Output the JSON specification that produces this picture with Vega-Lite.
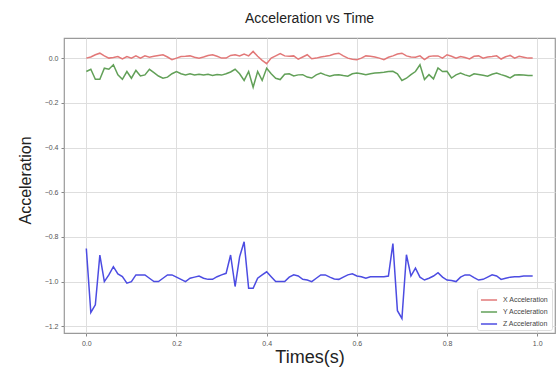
{
  "$schema": "https://vega.github.io/schema/vega-lite/v6.json",
  "autosize": {"type": "none"},
  "padding": {"left": 64, "top": 38, "right": 2, "bottom": 38},
  "width": 491,
  "height": 295,
  "background": "white",
  "config": {
    "font": "Liberation Sans",
    "view": {"stroke": "#9a9a9a", "strokeWidth": 1.2},
    "axis": {
      "domain": false,
      "grid": true,
      "gridColor": "#dedede",
      "gridWidth": 1,
      "tickColor": "#888",
      "tickSize": 3,
      "labelFontSize": 7,
      "labelColor": "#555",
      "titleFontSize": 16,
      "titleFontWeight": "normal",
      "titleColor": "#222"
    }
  },
  "title": {"text": "Acceleration vs Time", "fontSize": 14, "fontWeight": "normal", "color": "#222", "offset": 12},
  "data": {"values": [
    {"t":0.00,"X Acceleration":0.000,"Y Acceleration":-0.060,"Z Acceleration":-0.852},
    {"t":0.01,"X Acceleration":0.005,"Y Acceleration":-0.050,"Z Acceleration":-1.138},
    {"t":0.02,"X Acceleration":0.015,"Y Acceleration":-0.095,"Z Acceleration":-1.104},
    {"t":0.03,"X Acceleration":0.022,"Y Acceleration":-0.095,"Z Acceleration":-0.881},
    {"t":0.04,"X Acceleration":0.010,"Y Acceleration":-0.045,"Z Acceleration":-1.000},
    {"t":0.05,"X Acceleration":0.000,"Y Acceleration":-0.050,"Z Acceleration":-0.970},
    {"t":0.06,"X Acceleration":0.003,"Y Acceleration":-0.030,"Z Acceleration":-0.933},
    {"t":0.07,"X Acceleration":0.007,"Y Acceleration":-0.075,"Z Acceleration":-0.966},
    {"t":0.08,"X Acceleration":-0.004,"Y Acceleration":-0.095,"Z Acceleration":-0.978},
    {"t":0.09,"X Acceleration":0.007,"Y Acceleration":-0.060,"Z Acceleration":-1.007},
    {"t":0.10,"X Acceleration":0.000,"Y Acceleration":-0.090,"Z Acceleration":-1.000},
    {"t":0.11,"X Acceleration":0.010,"Y Acceleration":-0.055,"Z Acceleration":-0.970},
    {"t":0.12,"X Acceleration":0.000,"Y Acceleration":-0.080,"Z Acceleration":-0.970},
    {"t":0.13,"X Acceleration":0.010,"Y Acceleration":-0.075,"Z Acceleration":-0.970},
    {"t":0.14,"X Acceleration":0.004,"Y Acceleration":-0.050,"Z Acceleration":-0.985},
    {"t":0.15,"X Acceleration":0.008,"Y Acceleration":-0.065,"Z Acceleration":-1.000},
    {"t":0.16,"X Acceleration":0.012,"Y Acceleration":-0.080,"Z Acceleration":-1.000},
    {"t":0.17,"X Acceleration":0.015,"Y Acceleration":-0.090,"Z Acceleration":-0.985},
    {"t":0.18,"X Acceleration":0.005,"Y Acceleration":-0.085,"Z Acceleration":-0.970},
    {"t":0.19,"X Acceleration":-0.007,"Y Acceleration":-0.070,"Z Acceleration":-0.970},
    {"t":0.20,"X Acceleration":0.000,"Y Acceleration":-0.060,"Z Acceleration":-0.980},
    {"t":0.21,"X Acceleration":0.007,"Y Acceleration":-0.070,"Z Acceleration":-0.990},
    {"t":0.22,"X Acceleration":0.008,"Y Acceleration":-0.075,"Z Acceleration":-1.000},
    {"t":0.23,"X Acceleration":0.010,"Y Acceleration":-0.070,"Z Acceleration":-0.985},
    {"t":0.24,"X Acceleration":0.004,"Y Acceleration":-0.075,"Z Acceleration":-0.980},
    {"t":0.25,"X Acceleration":0.000,"Y Acceleration":-0.072,"Z Acceleration":-0.975},
    {"t":0.26,"X Acceleration":0.005,"Y Acceleration":-0.076,"Z Acceleration":-0.985},
    {"t":0.27,"X Acceleration":0.012,"Y Acceleration":-0.072,"Z Acceleration":-0.990},
    {"t":0.28,"X Acceleration":0.015,"Y Acceleration":-0.078,"Z Acceleration":-0.990},
    {"t":0.29,"X Acceleration":0.008,"Y Acceleration":-0.073,"Z Acceleration":-0.978},
    {"t":0.30,"X Acceleration":0.000,"Y Acceleration":-0.076,"Z Acceleration":-0.970},
    {"t":0.31,"X Acceleration":0.000,"Y Acceleration":-0.070,"Z Acceleration":-0.963},
    {"t":0.32,"X Acceleration":0.012,"Y Acceleration":-0.062,"Z Acceleration":-0.881},
    {"t":0.33,"X Acceleration":0.015,"Y Acceleration":-0.050,"Z Acceleration":-1.022},
    {"t":0.34,"X Acceleration":0.010,"Y Acceleration":-0.070,"Z Acceleration":-0.889},
    {"t":0.35,"X Acceleration":0.018,"Y Acceleration":-0.100,"Z Acceleration":-0.822},
    {"t":0.36,"X Acceleration":0.010,"Y Acceleration":-0.060,"Z Acceleration":-1.030},
    {"t":0.37,"X Acceleration":0.030,"Y Acceleration":-0.130,"Z Acceleration":-1.030},
    {"t":0.38,"X Acceleration":0.008,"Y Acceleration":-0.060,"Z Acceleration":-0.985},
    {"t":0.39,"X Acceleration":-0.010,"Y Acceleration":-0.100,"Z Acceleration":-0.970},
    {"t":0.40,"X Acceleration":-0.025,"Y Acceleration":-0.045,"Z Acceleration":-0.956},
    {"t":0.41,"X Acceleration":0.000,"Y Acceleration":-0.070,"Z Acceleration":-0.978},
    {"t":0.42,"X Acceleration":0.010,"Y Acceleration":-0.090,"Z Acceleration":-1.000},
    {"t":0.43,"X Acceleration":0.020,"Y Acceleration":-0.096,"Z Acceleration":-1.000},
    {"t":0.44,"X Acceleration":0.010,"Y Acceleration":-0.072,"Z Acceleration":-1.000},
    {"t":0.45,"X Acceleration":0.008,"Y Acceleration":-0.070,"Z Acceleration":-0.980},
    {"t":0.46,"X Acceleration":0.010,"Y Acceleration":-0.080,"Z Acceleration":-0.970},
    {"t":0.47,"X Acceleration":-0.005,"Y Acceleration":-0.075,"Z Acceleration":-0.975},
    {"t":0.48,"X Acceleration":0.005,"Y Acceleration":-0.074,"Z Acceleration":-0.990},
    {"t":0.49,"X Acceleration":0.015,"Y Acceleration":-0.085,"Z Acceleration":-0.993},
    {"t":0.50,"X Acceleration":-0.003,"Y Acceleration":-0.089,"Z Acceleration":-1.000},
    {"t":0.51,"X Acceleration":0.000,"Y Acceleration":-0.075,"Z Acceleration":-0.985},
    {"t":0.52,"X Acceleration":0.005,"Y Acceleration":-0.067,"Z Acceleration":-0.970},
    {"t":0.53,"X Acceleration":0.008,"Y Acceleration":-0.075,"Z Acceleration":-0.970},
    {"t":0.54,"X Acceleration":0.012,"Y Acceleration":-0.081,"Z Acceleration":-0.980},
    {"t":0.55,"X Acceleration":0.018,"Y Acceleration":-0.076,"Z Acceleration":-0.988},
    {"t":0.56,"X Acceleration":0.022,"Y Acceleration":-0.074,"Z Acceleration":-0.990},
    {"t":0.57,"X Acceleration":0.010,"Y Acceleration":-0.078,"Z Acceleration":-0.980},
    {"t":0.58,"X Acceleration":0.000,"Y Acceleration":-0.081,"Z Acceleration":-0.970},
    {"t":0.59,"X Acceleration":-0.005,"Y Acceleration":-0.070,"Z Acceleration":-0.965},
    {"t":0.60,"X Acceleration":-0.007,"Y Acceleration":-0.067,"Z Acceleration":-0.975},
    {"t":0.61,"X Acceleration":0.000,"Y Acceleration":-0.070,"Z Acceleration":-0.978},
    {"t":0.62,"X Acceleration":0.010,"Y Acceleration":-0.074,"Z Acceleration":-0.985},
    {"t":0.63,"X Acceleration":0.008,"Y Acceleration":-0.070,"Z Acceleration":-0.978},
    {"t":0.64,"X Acceleration":0.005,"Y Acceleration":-0.067,"Z Acceleration":-0.978},
    {"t":0.65,"X Acceleration":0.000,"Y Acceleration":-0.065,"Z Acceleration":-0.978},
    {"t":0.66,"X Acceleration":-0.007,"Y Acceleration":-0.063,"Z Acceleration":-0.978},
    {"t":0.67,"X Acceleration":0.004,"Y Acceleration":-0.060,"Z Acceleration":-0.975},
    {"t":0.68,"X Acceleration":0.010,"Y Acceleration":-0.059,"Z Acceleration":-0.830},
    {"t":0.69,"X Acceleration":0.018,"Y Acceleration":-0.070,"Z Acceleration":-1.130},
    {"t":0.70,"X Acceleration":0.022,"Y Acceleration":-0.100,"Z Acceleration":-1.165},
    {"t":0.71,"X Acceleration":0.010,"Y Acceleration":-0.090,"Z Acceleration":-0.880},
    {"t":0.72,"X Acceleration":0.005,"Y Acceleration":-0.074,"Z Acceleration":-0.975},
    {"t":0.73,"X Acceleration":0.004,"Y Acceleration":-0.060,"Z Acceleration":-0.940},
    {"t":0.74,"X Acceleration":0.010,"Y Acceleration":-0.030,"Z Acceleration":-0.980},
    {"t":0.75,"X Acceleration":-0.007,"Y Acceleration":-0.096,"Z Acceleration":-0.993},
    {"t":0.76,"X Acceleration":0.007,"Y Acceleration":-0.074,"Z Acceleration":-0.985},
    {"t":0.77,"X Acceleration":0.010,"Y Acceleration":-0.093,"Z Acceleration":-0.975},
    {"t":0.78,"X Acceleration":0.010,"Y Acceleration":-0.044,"Z Acceleration":-0.960},
    {"t":0.79,"X Acceleration":0.000,"Y Acceleration":-0.060,"Z Acceleration":-0.980},
    {"t":0.80,"X Acceleration":0.015,"Y Acceleration":-0.059,"Z Acceleration":-0.993},
    {"t":0.81,"X Acceleration":0.008,"Y Acceleration":-0.089,"Z Acceleration":-0.995},
    {"t":0.82,"X Acceleration":0.000,"Y Acceleration":-0.075,"Z Acceleration":-1.000},
    {"t":0.83,"X Acceleration":0.007,"Y Acceleration":-0.067,"Z Acceleration":-0.980},
    {"t":0.84,"X Acceleration":0.003,"Y Acceleration":-0.075,"Z Acceleration":-0.970},
    {"t":0.85,"X Acceleration":-0.004,"Y Acceleration":-0.081,"Z Acceleration":-0.970},
    {"t":0.86,"X Acceleration":0.008,"Y Acceleration":-0.070,"Z Acceleration":-0.982},
    {"t":0.87,"X Acceleration":0.010,"Y Acceleration":-0.073,"Z Acceleration":-0.993},
    {"t":0.88,"X Acceleration":0.000,"Y Acceleration":-0.077,"Z Acceleration":-0.990},
    {"t":0.89,"X Acceleration":0.005,"Y Acceleration":-0.081,"Z Acceleration":-0.980},
    {"t":0.90,"X Acceleration":0.007,"Y Acceleration":-0.072,"Z Acceleration":-0.970},
    {"t":0.91,"X Acceleration":0.010,"Y Acceleration":-0.067,"Z Acceleration":-0.975},
    {"t":0.92,"X Acceleration":-0.004,"Y Acceleration":-0.074,"Z Acceleration":-0.990},
    {"t":0.93,"X Acceleration":0.006,"Y Acceleration":-0.080,"Z Acceleration":-0.985},
    {"t":0.94,"X Acceleration":0.012,"Y Acceleration":-0.089,"Z Acceleration":-0.980},
    {"t":0.95,"X Acceleration":0.000,"Y Acceleration":-0.076,"Z Acceleration":-0.978},
    {"t":0.96,"X Acceleration":0.008,"Y Acceleration":-0.074,"Z Acceleration":-0.978},
    {"t":0.97,"X Acceleration":0.004,"Y Acceleration":-0.076,"Z Acceleration":-0.975},
    {"t":0.98,"X Acceleration":0.000,"Y Acceleration":-0.078,"Z Acceleration":-0.975},
    {"t":0.99,"X Acceleration":0.000,"Y Acceleration":-0.078,"Z Acceleration":-0.975}
  ]},
  "transform": [
    {"fold": ["X Acceleration", "Y Acceleration", "Z Acceleration"], "as": ["series", "value"]}
  ],
  "mark": {"type": "line", "strokeWidth": 1.5, "interpolate": "linear"},
  "encoding": {
    "x": {
      "field": "t", "type": "quantitative",
      "scale": {"domain": [-0.0495, 1.0395], "nice": false, "zero": false},
      "axis": {"values": [0, 0.2, 0.4, 0.6, 0.8, 1.0], "format": ".1f", "title": "Times(s)", "titleFontSize": 18, "titleY": 24, "titleBaseline": "middle", "labelPadding": 3}
    },
    "y": {
      "field": "value", "type": "quantitative",
      "scale": {"domain": [-1.23, 0.09], "nice": false, "zero": false},
      "axis": {"values": [0, -0.2, -0.4, -0.6, -0.8, -1.0, -1.2], "format": ".1f", "title": "Acceleration", "titleX": -39, "titleY": 142, "titleAngle": -90, "titleAlign": "center", "titleBaseline": "middle", "labelPadding": 3}
    },
    "color": {
      "field": "series", "type": "nominal",
      "scale": {"domain": ["X Acceleration", "Y Acceleration", "Z Acceleration"], "range": ["#e27878", "#62a058", "#4c4ce2"]},
      "legend": {
        "title": null,
        "orient": "bottom-right",
        "offset": 3,
        "symbolType": "stroke",
        "symbolSize": 260,
        "symbolStrokeWidth": 1.5,
        "labelFontSize": 7,
        "labelColor": "#444",
        "labelOffset": 5,
        "rowPadding": 0,
        "padding": 3,
        "fillColor": "white",
        "strokeColor": "#dddddd",
        "cornerRadius": 2
      }
    }
  }
}
